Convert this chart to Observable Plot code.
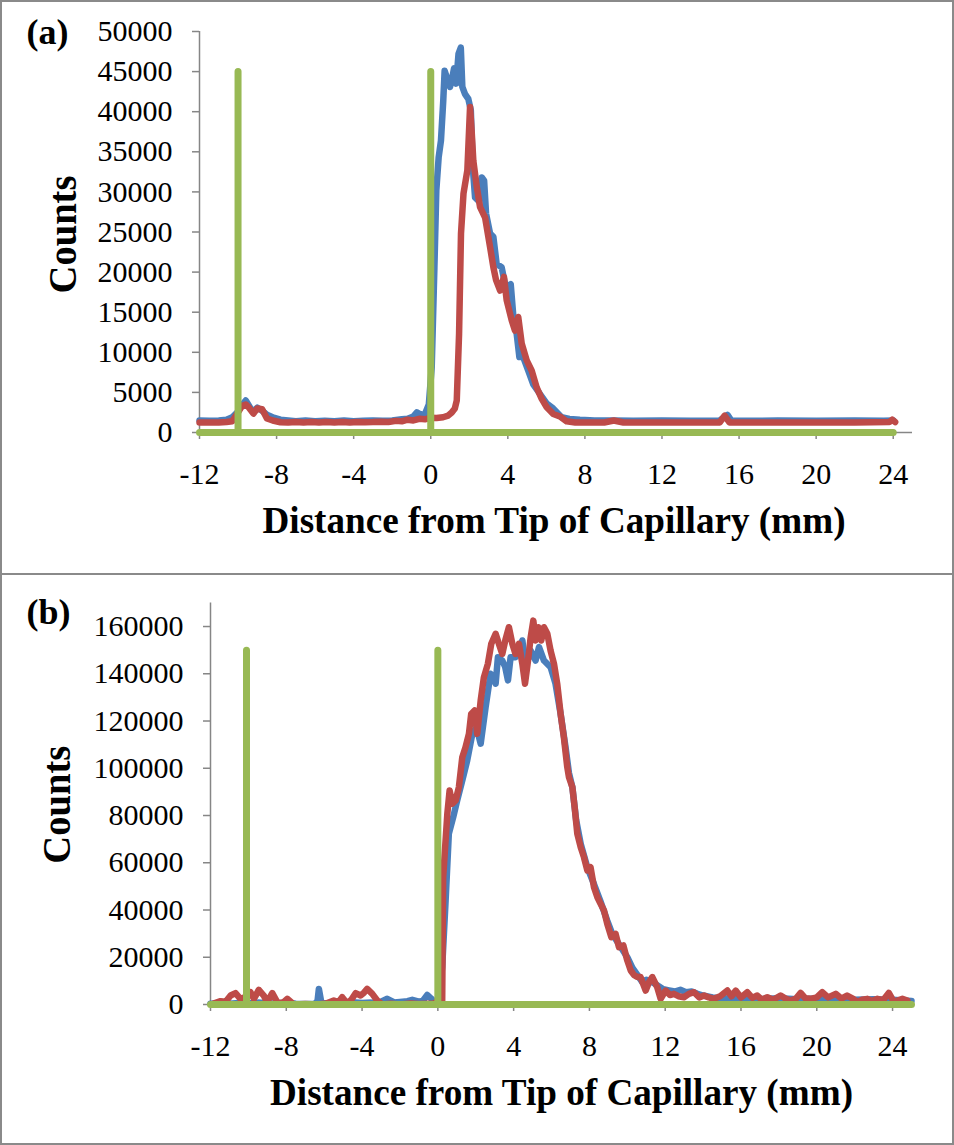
<!DOCTYPE html>
<html><head><meta charset="utf-8">
<script src="https://cdn.jsdelivr.net/npm/d3@7"></script>
<script src="https://cdn.jsdelivr.net/npm/@observablehq/plot@0.6"></script>
<style>
html,body{margin:0;padding:0;background:#fff;}
.panel{position:absolute;left:0;width:950px;border:2px solid #8a8a8a;background:#fff;overflow:hidden;}
#pa{top:0;height:571px;}
#pb{top:575px;height:568px;border-top:none;}
</style></head><body>
<div id="pa" class="panel"></div>
<div id="pb" class="panel"></div>
<script>
// ---------- shared ----------
const xTicks = [-12, -8, -4, 0, 4, 8, 12, 16, 20, 24];
const xTitle = "Distance from Tip of Capillary (mm)";
const yTitle = "Counts";

// ---------- panel (a) ----------
const aTicksY = [0, 5000, 10000, 15000, 20000, 25000, 30000, 35000, 40000, 45000, 50000];
const aBlueX = [-12,-11.5,-11,-10.6,-10.3,-10.0,-9.8,-9.6,-9.45,-9.25,-9.0,-8.8,-8.5,-8.2,-7.8,-7.4,-7,-6.5,-6,-5.5,-5,-4.5,-4,-3.5,-3,-2.5,-2,-1.5,-1.2,-0.9,-0.72,-0.5,-0.3,-0.1,0.05,0.19,0.29,0.41,0.53,0.65,0.72,0.83,1.0,1.09,1.21,1.32,1.44,1.56,1.64,1.78,1.95,2.08,2.18,2.30,2.47,2.65,2.77,2.87,3.08,3.25,3.42,3.68,3.89,4.15,4.29,4.46,4.60,4.80,5.06,5.32,5.67,6.02,6.35,6.79,7.2,7.74,8.5,9.5,10.5,12,13.5,15,15.4,15.6,16.5,18,20,22,23.5,24];
const aBlueY = [1500,1450,1500,1600,1900,2600,3400,4000,3400,2600,3100,2800,2200,1900,1600,1500,1400,1500,1400,1450,1400,1500,1400,1450,1500,1450,1500,1650,1700,2000,2500,2200,2300,3500,8100,20600,30200,34300,36400,41400,45100,44300,43100,43900,45400,43500,47200,48000,43100,42200,41600,40200,33100,29300,28900,31800,31400,27300,24800,24400,21000,20600,18100,18500,14400,12300,9400,9400,7700,6000,4800,3600,3000,1900,1700,1600,1500,1500,1450,1500,1450,1500,2200,1500,1450,1500,1450,1500,1450,1500];
const aRedX = [-12,-11.5,-11,-10.6,-10.3,-10.0,-9.8,-9.6,-9.45,-9.2,-9.0,-8.75,-8.5,-8.2,-7.8,-7.4,-7,-6.6,-6.2,-5.8,-5.4,-5,-4.6,-4.2,-3.8,-3.4,-3,-2.6,-2.2,-1.8,-1.5,-1.2,-0.9,-0.6,-0.3,0,0.3,0.64,0.9,1.09,1.25,1.35,1.47,1.57,1.70,1.90,2.04,2.13,2.21,2.39,2.56,2.82,3.08,3.25,3.39,3.6,3.80,3.94,4.2,4.37,4.54,4.72,4.98,5.24,5.50,5.76,6.02,6.36,6.70,7.05,7.5,8,9,9.5,10,11,12,13,14,15,15.25,15.5,16,18,20,22,23.8,23.95,24.1];
const aRedY = [1250,1250,1250,1300,1400,2500,3300,3500,3150,2350,3000,2900,1750,1500,1280,1250,1300,1250,1300,1250,1300,1250,1300,1250,1300,1280,1300,1350,1300,1450,1400,1600,1500,1700,1650,1850,1800,1900,2100,2500,3000,4000,12300,24800,29800,32700,40600,37300,33900,30600,28100,26800,23100,20600,19000,17700,19400,16500,14000,12700,14400,11100,9000,7700,5600,4200,3150,2300,2000,1400,1250,1250,1250,1500,1250,1250,1250,1250,1250,1250,2100,1250,1250,1250,1250,1250,1300,1600,1300];
const aGreenX = [-12,-10,-10,-10,0,0,0,24];
const aGreenY = [0,0,45000,0,0,45000,0,0];

// ---------- panel (b) ----------
const bTicksY = [0, 20000, 40000, 60000, 80000, 100000, 120000, 140000, 160000];
const bBlueX = [-12,-11.5,-11,-10.5,-10,-9.5,-9,-8.5,-8,-7.5,-7,-6.5,-6.35,-6.28,-6.15,-5.8,-5.5,-5,-4.5,-4,-3.5,-3,-2.67,-2.3,-2,-1.6,-1.35,-1.0,-0.8,-0.56,-0.35,-0.15,0.0,0.23,0.41,0.58,0.81,1.02,1.29,1.55,1.82,2.04,2.26,2.52,2.78,2.95,3.05,3.17,3.40,3.55,3.70,3.84,4.10,4.30,4.46,4.63,4.90,5.16,5.34,5.60,5.95,6.21,6.48,6.74,6.92,7.10,7.30,7.54,7.89,8.24,8.59,8.94,9.2,9.56,10.0,10.27,10.53,10.79,11.0,11.3,11.6,11.9,12.2,12.5,12.8,13.1,13.4,13.7,14.0,14.5,15,16,17,18,19,20,21,22,23,24,25];
const bBlueY = [300,500,300,600,400,800,500,400,900,300,200,300,1500,6600,800,300,900,400,1000,600,800,1200,2400,900,1100,1400,2000,1200,1500,4000,2500,800,300,15800,44000,72300,79300,86400,94800,103300,114600,117400,110400,125800,140000,138000,135800,147000,145600,143000,137200,147000,147000,150000,154100,142800,149800,145600,151300,145600,142800,135800,123000,108900,98000,92000,78000,68000,58000,51000,43500,35500,30000,25500,20000,15500,12500,9500,10500,9500,8000,6500,6000,5500,6200,5200,5500,4500,3800,3000,2500,2800,2300,2600,2200,2500,2300,2000,2200,2000,1500];
const bRedX = [-11.84,-11.47,-11.2,-10.94,-10.68,-10.42,-10.2,-9.89,-9.71,-9.45,-9.19,-9.01,-8.74,-8.48,-8.2,-7.95,-7.6,-7,-6.37,-5.9,-5.49,-5.25,-5.05,-4.78,-4.55,-4.34,-4.08,-3.9,-3.73,-3.46,-3.2,-2.93,-2.5,-1.97,-1.44,-1.0,-0.5,-0.21,0.05,0.23,0.28,0.50,0.62,0.76,0.94,1.11,1.29,1.46,1.64,1.76,1.94,2.08,2.26,2.43,2.64,2.82,3.05,3.22,3.40,3.58,3.75,3.93,4.10,4.28,4.46,4.60,4.76,4.90,5.04,5.16,5.30,5.46,5.60,5.78,5.95,6.13,6.30,6.48,6.65,6.83,6.92,7.10,7.22,7.36,7.54,7.71,7.89,8.06,8.24,8.42,8.59,8.77,8.94,9.16,9.38,9.56,9.79,10.0,10.18,10.35,10.53,10.7,10.97,11.15,11.32,11.58,11.76,12.02,12.25,12.46,12.7,12.99,13.25,13.52,13.8,14.05,14.3,14.57,14.9,15.28,15.5,15.72,16.0,16.33,16.6,16.86,17.1,17.39,17.7,18.09,18.35,18.62,18.9,19.15,19.4,19.68,20.0,20.29,20.6,21.0,21.3,21.6,21.9,22.15,22.4,22.67,22.9,23.2,23.5,23.8,24.08,24.3,24.52,24.78];
const bRedY = [400,1400,1200,3800,4800,2400,3000,5200,2400,6200,3800,1000,4800,1000,600,2400,0,200,0,400,1700,1000,3100,400,2200,4800,3800,5000,6600,4500,1700,0,300,0,400,200,300,400,1700,1700,53900,80700,90600,85000,86400,92000,104700,108900,114600,123000,124500,114600,128700,138500,144200,152700,156900,152700,148400,154800,159700,152700,148400,152700,144200,135800,145600,155500,162500,154100,159700,154100,159700,156900,149800,144200,135800,123000,113200,100500,96200,92000,83500,72300,66600,62400,56700,58100,49700,45400,42600,39800,34200,28500,29900,24300,25000,18600,14400,12500,11600,11600,5900,9500,11600,7300,2400,5900,4000,4500,3500,3100,4500,5200,3000,3800,3000,2400,3500,5900,3500,5900,3000,5200,2800,3800,2000,3100,2000,3800,2500,1700,2500,4900,2600,2400,3000,5200,3000,4500,2500,3800,2500,1000,2000,2400,1500,2400,1800,4900,1000,1800,2400,1700];
const bGreenX = [-12,-10.1,-10.1,-10.1,0,0,0,25];
const bGreenY = [0,0,150000,0,0,150000,0,0];

// ---------- styles ----------
const GRAY = "#868686";
const BLUE = "#4A7EBB";
const RED = "#BE4B48";
const GREEN = "#98B954";
const FONT = '"Liberation Serif", "Times New Roman", serif';

function pts(xs, ys) { return xs.map((x, i) => ({x, y: ys[i]})); }

function drawPanel(el, c) {
  const plot = Plot.plot({
    width: 950, height: c.height,
    marginLeft: c.ml, marginRight: c.mr, marginTop: c.mt, marginBottom: c.mb,
    style: {fontFamily: FONT, fontSize: "30px", color: "#000", background: "#fff", overflow: "visible"},
    x: {domain: [-12, 25], label: null},
    y: {domain: [0, c.ymax], label: null},
    marks: [
      Plot.ruleX([-12], {y1: 0, y2: c.ymax, stroke: GRAY, strokeWidth: 1.5}),
      Plot.ruleY([0], {x1: -12, x2: 25, stroke: GRAY, strokeWidth: 1.5}),
      Plot.axisX({ticks: xTicks, tickFormat: d => String(d), tickSize: 7, tickPadding: 23, stroke: GRAY, strokeWidth: 1.5, fill: "#000", label: null, fontFamily: FONT}),
      Plot.axisY({ticks: c.yTicks, tickFormat: d => String(d), tickSize: 7, tickPadding: 20, stroke: GRAY, strokeWidth: 1.5, fill: "#000", label: null, fontFamily: FONT}),
      Plot.line(pts(c.blueX, c.blueY), {x: "x", y: "y", stroke: BLUE, strokeWidth: 6.5}),
      Plot.line(pts(c.redX, c.redY), {x: "x", y: "y", stroke: RED, strokeWidth: 6.5}),
      Plot.line(pts(c.greenX, c.greenY), {x: "x", y: "y", stroke: GREEN, strokeWidth: 7}),
      Plot.text([c.tag], {frameAnchor: "top-left", textAnchor: "start", lineAnchor: "top", dx: c.tagDx, dy: c.tagDy, fontWeight: "bold", fontSize: 36, fill: "#000"}),
      Plot.text([yTitle], {frameAnchor: "left", textAnchor: "middle", lineAnchor: "middle", rotate: -90, dx: c.ytDx, dy: c.ytDy, fontWeight: "bold", fontSize: 40, fill: "#000"}),
      Plot.text([xTitle], {frameAnchor: "bottom", textAnchor: "middle", lineAnchor: "top", dx: c.xtDx, dy: 74.7, fontWeight: "bold", fontSize: 37, fill: "#000"})
    ]
  });
  plot.querySelectorAll("text").forEach(t => {
    if (t.textContent === xTitle) { t.setAttribute("textLength", 583); t.setAttribute("lengthAdjust", "spacingAndGlyphs"); }
    if (t.textContent === yTitle) { t.setAttribute("textLength", 118); t.setAttribute("lengthAdjust", "spacingAndGlyphs"); }
  });
  el.appendChild(plot);
}

drawPanel(document.getElementById("pa"), {
  height: 571, ml: 197, mr: 40, mt: 29, mb: 141, ymax: 50000, yTicks: aTicksY,
  blueX: aBlueX, blueY: aBlueY, redX: aRedX, redY: aRedY, greenX: aGreenX, greenY: aGreenY,
  tag: "(a)", tagDx: -173, tagDy: -13.1, ytDx: -136, ytDy: 2.5, xtDx: -2
});
drawPanel(document.getElementById("pb"), {
  height: 568, ml: 208, mr: 41, mt: 27.4, mb: 139, ymax: 170000, yTicks: bTicksY,
  blueX: bBlueX, blueY: bBlueY, redX: bRedX, redY: bRedY, greenX: bGreenX, greenY: bGreenY,
  tag: "(b)", tagDx: -184, tagDy: -4.5, ytDx: -153, ytDy: 1, xtDx: 0.5
});
</script>
</body></html>
